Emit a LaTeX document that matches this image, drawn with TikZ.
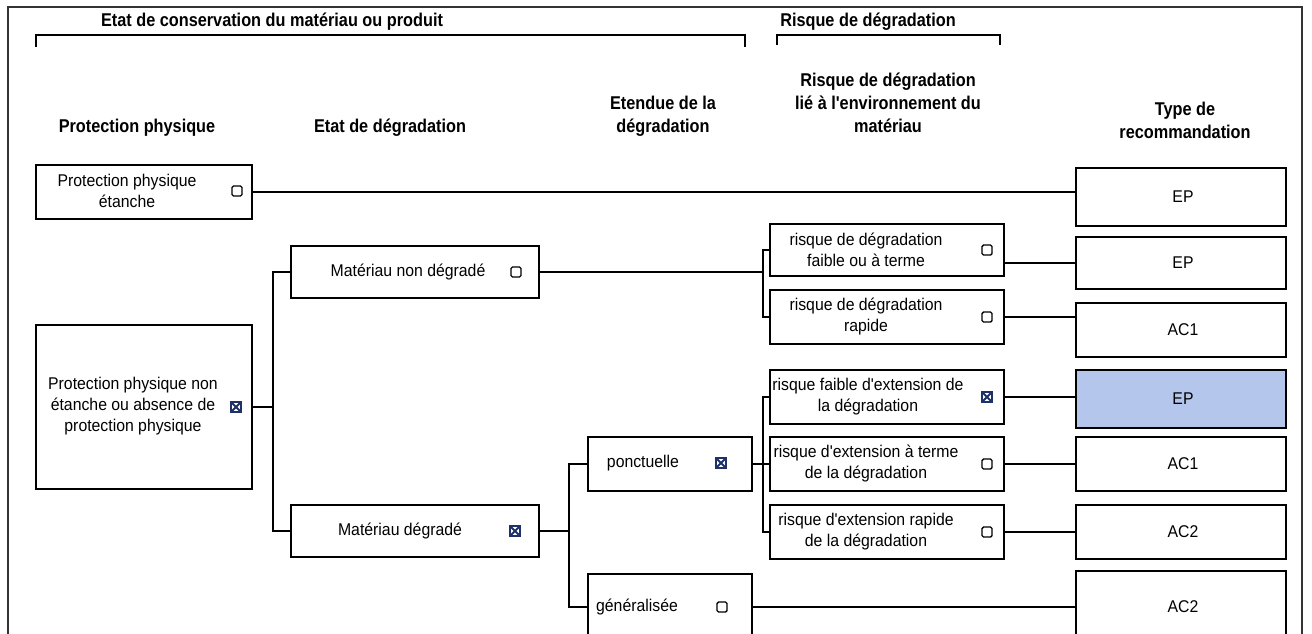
\documentclass[tikz,border=0pt]{standalone}
\usepackage{fontspec}
\setmainfont{Liberation Sans}
\newfontfamily\bodyfont[FakeStretch=0.93]{Liberation Sans}
\newfontfamily\headfont[FakeStretch=0.88]{Liberation Sans Bold}
\begin{document}
\begin{tikzpicture}[x=1pt,y=-1pt,
  box/.style={draw=black, line width=2pt, inner sep=0pt},
  conn/.style={draw=black, line width=2pt},
  txt/.style={align=center, font=\bodyfont\fontsize{17}{21}\selectfont, inner sep=0pt},
  head/.style={align=center, font=\headfont\fontsize{18.5}{23}\selectfont, inner sep=0pt},
  chk/.style={draw=black, line width=1.4pt, rounded corners=1.5pt, minimum size=10pt, inner sep=0pt},
  xchk/.style={draw=xblue, line width=1.6pt, minimum size=10pt, inner sep=0pt,
     path picture={\draw[xblue, line width=1.8pt] (path picture bounding box.north west) -- (path picture bounding box.south east)
       (path picture bounding box.north east) -- (path picture bounding box.south west);}},
  colA/.style={box, minimum width=216pt},
  colC/.style={box, minimum width=248pt, minimum height=52pt},
  colE/.style={box, minimum width=164pt},
  colR/.style={box, minimum width=234pt},
  colT/.style={box, minimum width=210pt}
]
\definecolor{xblue}{RGB}{30,50,105}
\definecolor{hiblue}{RGB}{180,198,235}
\clip (0,0) rectangle (1312,634);
\fill[white] (0,0) rectangle (1312,634);
% page frame
\draw[line width=1.2pt, black!80] (8,650) -- (8,7) -- (1302,7) -- (1302,650);

% section headers
\node[head] (h1) at (272,22) {Etat de conservation du matériau ou produit};
\draw[line width=1.5pt] (36,47) -- (36,35) -- (745,35) -- (745,47);
\node[head] (h2) at (868,22) {Risque de dégradation};
\draw[line width=1.5pt] (777,45) -- (777,35) -- (1000,35) -- (1000,45);

% column headers
\node[head] (c1) at (137,128) {Protection physique};
\node[head] (c2) at (390,128) {Etat de dégradation};
\node[head] (c3) at (663,116) {Etendue de la\\dégradation};
\node[head] (c4) at (888,103) {Risque de dégradation\\lié à l'environnement du\\matériau};
\node[head] (c5) at (1185,120) {Type de\\recommandation};

% column 1
\node[colA, minimum height=54pt] (A) at (144,192) {};
\node[txt] (At) at (127,191) {Protection physique\\étanche};
\node[chk] (Ac) at (237,191) {};
\node[colA, minimum height=164pt] (B) at (144,407) {};
\node[txt] (Bt) at (133,406) {Protection physique non\\étanche ou absence de\\protection physique};
\node[xchk] (Bc) at (236,407) {};

% column 2
\node[colC] (C) at (415,272) {};
\node[txt] (Ct) at (408,272) {Matériau non dégradé};
\node[chk] (Cc) at (516,272) {};
\node[colC] (D) at (415,531) {};
\node[txt] (Dt) at (400,531) {Matériau dégradé};
\node[xchk] (Dc) at (515,531) {};

% column 3
\node[colE, minimum height=54pt] (E) at (670,464) {};
\node[txt] (Et) at (643,463) {ponctuelle};
\node[xchk] (Ec) at (721,463) {};
\node[colE, minimum height=66pt] (F) at (670,607) {};
\node[txt] (Ft) at (637,607) {généralisée};
\node[chk] (Fc) at (722,607) {};

% column 4
\node[colR, minimum height=52pt] (R1) at (887,250) {};
\node[txt] (R1t) at (866,250) {risque de dégradation\\faible ou à terme};
\node[chk] (R1c) at (987,250) {};
\node[colR, minimum height=54pt] (R2) at (887,317) {};
\node[txt] (R2t) at (866,317) {risque de dégradation\\rapide};
\node[chk] (R2c) at (987,317) {};
\node[colR, minimum height=54pt] (R3) at (887,397) {};
\node[txt] (R3t) at (868,397) {risque faible d'extension de\\la dégradation};
\node[xchk] (R3c) at (987,397) {};
\node[colR, minimum height=54pt] (R4) at (887,464) {};
\node[txt] (R4t) at (866,464) {risque d'extension à terme\\de la dégradation};
\node[chk] (R4c) at (987,464) {};
\node[colR, minimum height=54pt] (R5) at (887,532) {};
\node[txt] (R5t) at (866,532) {risque d'extension rapide\\de la dégradation};
\node[chk] (R5c) at (987,532) {};

% column 5
\node[colT, minimum height=58pt] (T1) at (1181,197) {};
\node[txt] (T1t) at (1183,197) {EP};
\node[colT, minimum height=52pt] (T2) at (1181,263) {};
\node[txt] (T2t) at (1183,263) {EP};
\node[colT, minimum height=54pt] (T3) at (1181,330) {};
\node[txt] (T3t) at (1183,330) {AC1};
\node[colT, minimum height=58pt, fill=hiblue] (T4) at (1181,399) {};
\node[txt] (T4t) at (1183,399) {EP};
\node[colT, minimum height=54pt] (T5) at (1181,464) {};
\node[txt] (T5t) at (1183,464) {AC1};
\node[colT, minimum height=54pt] (T6) at (1181,532) {};
\node[txt] (T6t) at (1183,532) {AC2};
\node[colT, minimum height=74pt] (T7) at (1181,608) {};
\node[txt] (T7t) at (1183,607) {AC2};

% connectors
\draw[conn] (A.east) -- (A.east -| T1.west);
\draw[conn] (B.east) -- ++(20,0) coordinate (jB);
\draw[conn] (C.west) -| (jB);
\draw[conn] (D.west) -| (jB);
\draw[conn] (C.east) -- ++(223,0) coordinate (jC);
\draw[conn] (R1.west) -| (jC);
\draw[conn] (R2.west) -| (jC);
\draw[conn] (D.east) -- ++(29,0) coordinate (jD);
\draw[conn] (E.west) -| (jD);
\draw[conn] (F.west) -| (jD);
\draw[conn] (E.east) -- ++(10,0) coordinate (jE);
\draw[conn] (R3.west) -| (jE);
\draw[conn] (R4.west) -| (jE);
\draw[conn] (R5.west) -| (jE);
\draw[conn] (F.east) -- (F.east -| T7.west);
\draw[conn] (T2.west) -- (T2.west -| R1.east);
\draw[conn] (R2.east) -- (R2.east -| T3.west);
\draw[conn] (R3.east) -- (R3.east -| T4.west);
\draw[conn] (R4.east) -- (R4.east -| T5.west);
\draw[conn] (R5.east) -- (R5.east -| T6.west);
\end{tikzpicture}
\end{document}
